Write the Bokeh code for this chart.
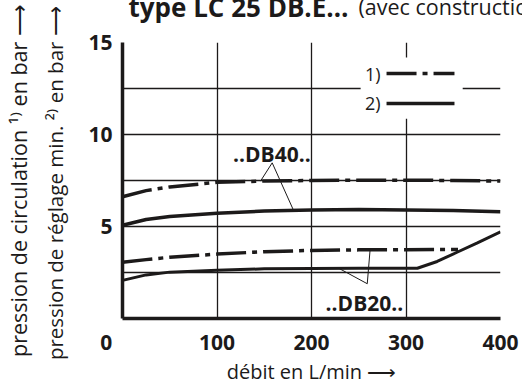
import numpy as np
from bokeh.plotting import figure
from bokeh.models import Range1d, FixedTicker, Label, LinearAxis, Title
from bokeh.embed import file_html
from bokeh.resources import INLINE

# ---------------- data ----------------
flow_db40_circ = [0, 25, 50, 100, 150, 200, 250, 300, 350, 400]
p_db40_circ = [6.62, 6.95, 7.15, 7.4, 7.47, 7.5, 7.52, 7.52, 7.5, 7.47]

flow_db40_min = [0, 25, 50, 100, 150, 200, 250, 300, 350, 400]
p_db40_min = [5.07, 5.38, 5.54, 5.72, 5.84, 5.9, 5.92, 5.9, 5.87, 5.8]

flow_db20_circ = [0, 25, 50, 100, 150, 200, 250, 300, 355]
p_db20_circ = [3.06, 3.2, 3.33, 3.5, 3.63, 3.7, 3.73, 3.74, 3.75]

flow_db20_min = [0, 25, 50, 100, 150, 200, 250, 312, 333, 354, 375, 400]
p_db20_min = [2.07, 2.37, 2.52, 2.62, 2.7, 2.72, 2.73, 2.73, 3.1, 3.6, 4.1, 4.71]

x_ticks = [0, 100, 200, 300, 400]
y_ticks = [5, 10, 15]
x_grid = [100, 200, 300, 400]
y_grid = [2.5, 5, 7.5, 10, 12.5, 15]

title_bold = "type LC 25 DB.E…"
title_regular = "(avec construction"
x_label = "débit en L/min ⟶"
y_label_1 = "pression de circulation ¹⁾ en bar ⟶"
y_label_2 = "pression de réglage min. ²⁾ en bar ⟶"

INK = "#1c1a1a"
FONT = "Open Sans"
DASHDOT = "30 6 5 6"

p = figure(width=522, height=387, x_range=Range1d(0, 400), y_range=Range1d(0, 15),
           output_backend="svg", toolbar_location=None,
           min_border_left=122, min_border_right=22, min_border_top=42, min_border_bottom=67)
p.outline_line_color = None
p.background_fill_color = "white"
p.border_fill_color = "white"

# grid
p.xgrid.ticker = FixedTicker(ticks=x_grid)
p.ygrid.ticker = FixedTicker(ticks=y_grid)
for g in (p.xgrid, p.ygrid):
    g.grid_line_color = INK
    g.grid_line_width = 1.3
    g.grid_line_alpha = 1.0

# axes
p.xaxis.ticker = FixedTicker(ticks=x_ticks)
# the origin label sits left of the corner in the reference
p.xaxis.major_label_overrides = {0: "0" + "\u00a0" * 6}
p.yaxis.ticker = FixedTicker(ticks=y_ticks)
for ax in (p.xaxis, p.yaxis):
    ax.axis_line_width = 3.5
    ax.axis_line_color = INK
    ax.major_tick_out = 0
    ax.major_tick_in = 0
    ax.minor_tick_out = 0
    ax.minor_tick_in = 0
    ax.major_label_text_font = FONT
    ax.major_label_text_font_style = "bold"
    ax.major_label_text_font_size = "21px"
    ax.major_label_text_color = INK
    ax.axis_label_text_font = FONT
    ax.axis_label_text_font_style = "normal"
    ax.axis_label_text_color = INK
p.xaxis.major_label_standoff = 9
p.yaxis.major_label_standoff = 10
p.xaxis.axis_label = x_label
p.xaxis.axis_label_text_font_size = "20px"
p.xaxis.axis_label_standoff = -1
# a trailing no-break space shifts this line's visible text slightly toward the bottom
p.yaxis.axis_label = y_label_2 + "\u00a0"
p.yaxis.axis_label_text_font_size = "20.5px"
p.yaxis.axis_label_standoff = 16

outer = LinearAxis(ticker=FixedTicker(ticks=[]), axis_label=y_label_1,
                   axis_line_color=None, major_tick_out=0, major_tick_in=0,
                   minor_tick_out=0, minor_tick_in=0, major_label_standoff=0,
                   axis_label_standoff=6, axis_label_text_font=FONT,
                   axis_label_text_font_style="normal", axis_label_text_font_size="21.5px",
                   axis_label_text_color=INK)
p.add_layout(outer, "left")

# curves
p.line(flow_db40_circ, p_db40_circ, line_color=INK, line_width=3.5, line_dash=DASHDOT)
p.line(flow_db40_min, p_db40_min, line_color=INK, line_width=3.5)
p.line(flow_db20_circ, p_db20_circ, line_color=INK, line_width=3.5, line_dash=DASHDOT)
p.line(flow_db20_min, p_db20_min, line_color=INK, line_width=3.0)

# leader lines for the curve labels
apex40 = (158.4, 8.46)
ends40 = [146, 181]
y40 = [float(np.interp(ends40[0], flow_db40_circ, p_db40_circ)),
       float(np.interp(ends40[1], flow_db40_min, p_db40_min))]
p.segment(x0=[apex40[0]] * 2, y0=[apex40[1]] * 2, x1=ends40, y1=y40,
          line_color=INK, line_width=1)

apex20 = (259, 1.89)
ends20 = [229, 262]
y20 = [float(np.interp(ends20[0], flow_db20_min, p_db20_min)),
       float(np.interp(ends20[1], flow_db20_circ, p_db20_circ))]
p.segment(x0=[apex20[0]] * 2, y0=[apex20[1]] * 2, x1=ends20, y1=y20,
          line_color=INK, line_width=1)

p.add_layout(Label(x=158, y=apex40[1], y_offset=9, text="..DB40..", text_align="center",
                   text_baseline="alphabetic", text_font=FONT, text_font_style="bold",
                   text_font_size="21px", text_color=INK))
p.add_layout(Label(x=256, y=0, y_offset=16, text="..DB20..", text_align="center",
                   text_baseline="alphabetic", text_font=FONT, text_font_style="bold",
                   text_font_size="21px", text_color=INK))

# legend (label before line sample, on a white patch hiding the grid)
p.quad(left=252, right=360, bottom=10.85, top=14.19, fill_color="white", line_color=None)
p.segment(x0=[279.4], y0=[13.31], x1=[351.3], y1=[13.31], line_color=INK, line_width=3.5,
          line_dash=DASHDOT)
p.segment(x0=[279.4], y0=[11.69], x1=[351.3], y1=[11.69], line_color=INK, line_width=3.5)
for txt, yy in (("1)", 13.31), ("2)", 11.69)):
    p.add_layout(Label(x=273, y=yy, text=txt, text_align="right", text_baseline="middle",
                       text_font=FONT, text_font_size="18px", text_color=INK))

# chart title: bold part and regular part on one row; both panels collapse to
# zero height (negative standoff) and their text is lifted above the frame
t1 = Title(text=title_bold, align="left", offset=6, standoff=-107, vertical_align="top",
           text_font=FONT, text_font_style="bold", text_font_size="26px", text_color=INK)
t2 = Title(text=title_regular, align="left", offset=236, standoff=-102, vertical_align="top",
           text_font=FONT, text_font_style="normal", text_font_size="21.5px", text_color=INK)
p.add_layout(t1, "above")
p.add_layout(t2, "above")

open("out.html", "w").write(file_html(p, INLINE))
